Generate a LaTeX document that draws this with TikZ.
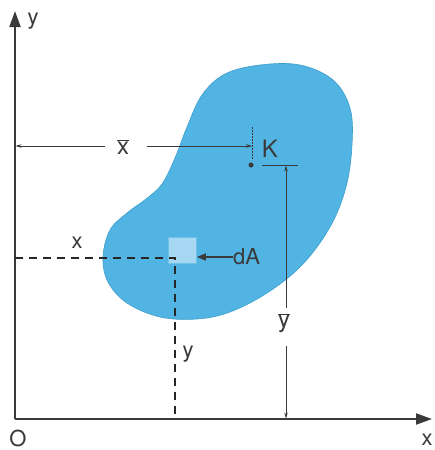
\documentclass[tikz,border=0pt]{standalone}
\usepackage{fontspec}
\setmainfont{TeX Gyre Heros}
\usetikzlibrary{arrows.meta}
\definecolor{axisgray}{HTML}{3A3A3A}
\definecolor{blobfill}{HTML}{52B4E2}
\definecolor{blobedge}{HTML}{3C9ECB}
\definecolor{sqfill}{HTML}{A6D8F4}
\definecolor{sqedge}{HTML}{6FC2EA}
\newcommand{\barlet}[1]{\ensuremath{\overline{\mbox{#1}}}}
\tikzset{
  lbl/.style={font=\fontsize{22}{25}\selectfont, text=axisgray, inner sep=0pt},
  biglbl/.style={font=\fontsize{24}{27}\selectfont, text=axisgray, inner sep=0pt},
  axisline/.style={draw=axisgray, line width=2pt, -{Triangle[length=16pt,width=11pt]}},
  dimline/.style={draw=axisgray, line width=0.6pt},
  dimarrow/.style={dimline, -{Stealth[length=6pt,width=3.5pt]}},
  dashline/.style={draw=black!85, line width=1.8pt, dash pattern=on 8pt off 6pt},
}
\begin{document}
\begin{tikzpicture}[x=1pt,y=-1pt]
\useasboundingbox (0,0) rectangle (435,450);
% blob
\fill[blobfill, draw=blobedge, line width=0.6pt] plot[smooth cycle, tension=0.6] coordinates {
 (187,127) (202,95) (225,74) (260,65) (300,65) (333,80) (350,108) (352,145)
 (346,187) (330,227) (302,265) (267,293) (230,312) (197,319) (160,317)
 (127,303) (108,282) (103,257) (110,230) (127,213) (146,199) (162,184) (175,158)};
% small element dA
\node[draw=sqedge, fill=sqfill, line width=0.8pt, minimum width=28pt, minimum height=26pt, inner sep=0pt] (sq) at (182.5,250) {};
% axes
\coordinate (O) at (15,419);
\coordinate (Xend) at (432,419);
\coordinate (Yend) at (15,11);
\draw[axisline] (O) -- (Xend);
\draw[axisline] (O) -- (Yend);
\node[lbl] (ylab) at (33,21) {y};
\node[lbl] (olab) at (18,438) {O};
\node[lbl] (xlab) at (427,440) {x};
% dashed coordinates of dA
\coordinate (yax) at (15,258);
\coordinate (corner) at (175,258);
\coordinate (xax) at (175,419);
\draw[dashline] (yax) -- (corner) -- (xax);
\node[lbl] (xsmall) at (77,243) {x};
\node[lbl] (ysmall) at (188,354) {y};
% dA arrow
\node[lbl, anchor=west] (dA) at (233,257) {dA};
\draw[draw=axisgray, line width=1.5pt, -{Triangle[length=9pt,width=7pt]}] (dA.west) -- (sq.east |- dA.west);
% centroid K
\node[circle, fill=axisgray, inner sep=0pt, minimum size=5pt] (Kdot) at (251,165) {};
\node[biglbl] (K) at (270,149) {K};
% xbar dimension
\coordinate (xtTop) at (252,127);
\coordinate (xtBot) at (252,160);
\draw[dimline, dash pattern=on 2pt off 1pt] (xtTop) -- (xtBot);
\node[biglbl] (xbar) at (123,147) {\barlet{x}};
\coordinate (xL) at (15.5,146);
\coordinate (xR) at (252,146);
\draw[dimarrow] (105,146) -- (xL);
\draw[dimarrow] (147,146) -- (xR);
% ybar dimension
\coordinate (ytL) at (262,165);
\coordinate (ytR) at (298,165);
\draw[dimline] (ytL) -- (ytR);
\node[biglbl] (ybar) at (284,323) {\barlet{y}};
\coordinate (yT) at (286,165.5);
\coordinate (yB) at (286,418.5);
\draw[dimarrow] (286,308) -- (yT);
\draw[dimarrow] (286,346) -- (yB);
\end{tikzpicture}
\end{document}
